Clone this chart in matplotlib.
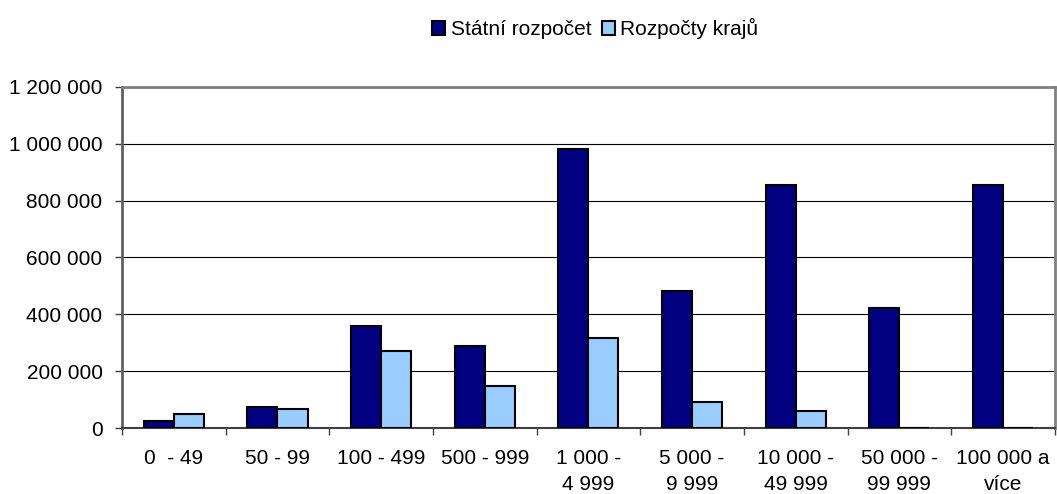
"""
Grouped bar chart: state budget vs. regional budgets by municipality size.
"""

import numpy as np
import matplotlib
matplotlib.use("Agg")
import matplotlib.pyplot as plt
from matplotlib.patches import Rectangle
from matplotlib.ticker import FuncFormatter, MultipleLocator

plt.rcParams["font.family"] = ["Liberation Sans", "DejaVu Sans"]

categories = [
    "0  - 49", "50 - 99", "100 - 499", "500 - 999", "1 000 -\n4 999",
    "5 000 -\n9 999", "10 000 -\n49 999", "50 000 -\n99 999", "100 000 a\nvíce",
]
statni_rozpocet = [25000, 73000, 360000, 288000, 983000, 481000, 855000, 422000, 854000]
rozpocty_kraju = [49000, 66000, 270000, 149000, 317000, 90000, 60000, 0, 0]
series_names = ["Státní rozpočet", "Rozpočty krajů"]
series_colors = ["#000080", "#99CCFF"]

fig = plt.figure(figsize=(10.57, 4.94), dpi=100)
ax = fig.add_axes([0.1154, 0.1336, 0.8826, 0.6904])

x = np.arange(len(categories))
width = 0.29
for offset, values, color in zip((-width / 2, width / 2),
                                 (statni_rozpocet, rozpocty_kraju), series_colors):
    ax.bar(x + offset, values, width, color=color, edgecolor="black",
           linewidth=1.5, zorder=3)

ax.set_xlim(-0.5, len(categories) - 0.5)
ax.set_ylim(0, 1200000)
ax.yaxis.set_major_locator(MultipleLocator(200000))
ax.yaxis.set_major_formatter(FuncFormatter(lambda v, _: f"{int(v):,}".replace(",", " ")))
ax.grid(axis="y", color="black", linewidth=0.8, zorder=0)

ax.set_xticks(x)
ax.set_xticklabels(categories, linespacing=1.45)
ax.set_xticks(np.arange(len(categories) + 1) - 0.5, minor=True)
ax.tick_params(axis="x", which="major", length=0, pad=15, labelsize=15)
ax.tick_params(axis="x", which="minor", length=5, width=1, color="#404040")
ax.tick_params(axis="y", length=5, width=1, color="#404040", pad=9, labelsize=15)

for side in ("top", "right"):
    ax.spines[side].set_color("#808080")
    ax.spines[side].set_linewidth(2)
ax.spines["left"].set_color("#606060")
ax.spines["left"].set_linewidth(2)
ax.spines["bottom"].set_color("#404040")
ax.spines["bottom"].set_linewidth(1.5)

handles = [Rectangle((0, 0), 1, 1, facecolor=c, edgecolor="black", linewidth=1.5)
           for c in series_colors]
fig.legend(handles, series_names, loc="upper center", bbox_to_anchor=(0.563, 0.98),
           ncol=2, frameon=False, fontsize=15, handlelength=0.65, handleheight=0.65,
           handletextpad=0.25, columnspacing=0.5, borderaxespad=0)

fig.savefig("out.png", dpi=100)
